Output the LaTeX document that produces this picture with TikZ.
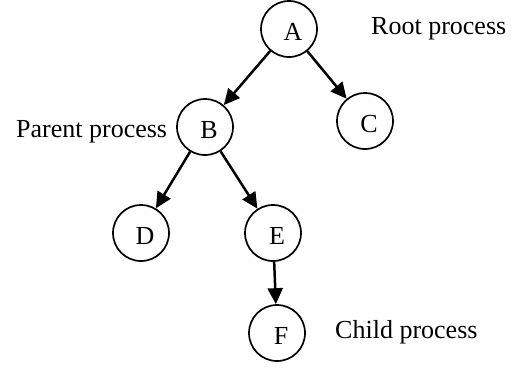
\documentclass[tikz,border=0pt]{standalone}
\usepackage{fontspec}
\setmainfont{Liberation Serif}
\usetikzlibrary{arrows.meta}

\tikzset{
  proc/.style = {draw, circle, line width=1.7pt, minimum size=56pt, inner sep=0pt,
    text height=23pt, text depth=0pt, execute at begin node=\hspace*{8pt}},
  link/.style = {line width=2.5pt, -{Triangle[length=16pt, width=15pt]}},
  tag/.style = {anchor=base west, inner sep=0pt}
}

\begin{document}
\begin{tikzpicture}[x=1pt, y=-1pt, font=\fontsize{26}{31}\selectfont]
\useasboundingbox (0, 0) rectangle (513, 372);
\node[proc] (A) at (289, 29) {A};
\node[proc] (B) at (205, 127) {B};
\node[proc] (C) at (365, 121) {C};
\node[proc] (D) at (141, 233) {D};
\node[proc] (E) at (273, 233) {E};
\node[proc] (F) at (277, 333) {F};
\draw[link] (A) -- (B);
\draw[link] (A) -- (C);
\draw[link] (B) -- (D);
\draw[link] (B) -- (E);
\draw[link] (E) -- (F);
\node[tag] (root) at (371, 34) {Root process};
\node[tag] (parent) at (16, 137) {Parent process};
\node[tag] (child) at (335, 338) {Child process};
\end{tikzpicture}
\end{document}
